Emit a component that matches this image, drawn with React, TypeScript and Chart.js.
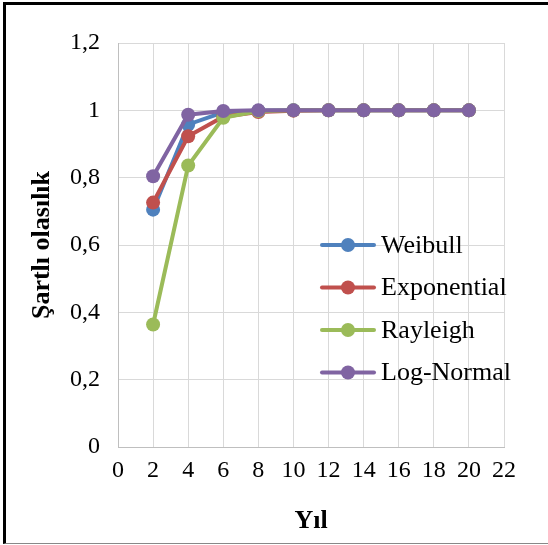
import React, { useEffect, useRef } from "react";
import { Chart, registerables } from "chart.js";

Chart.register(...registerables);

const years = [2, 4, 6, 8, 10, 12, 14, 16, 18, 20];
const weibull = [0.705, 0.958, 0.994, 0.999, 1, 1, 1, 1, 1, 1];
const exponential = [0.726, 0.923, 0.981, 0.995, 0.999, 1, 1, 1, 1, 1];
const rayleigh = [0.364, 0.836, 0.978, 0.998, 1, 1, 1, 1, 1, 1];
const logNormal = [0.804, 0.987, 0.998, 1, 1, 1, 1, 1, 1, 1];
const seriesNames = ["Weibull", "Exponential", "Rayleigh", "Log-Normal"];
const seriesColors = ["#4F81BD", "#C0504D", "#9BBB59", "#8064A2"];
const xTitle = "Yıl";
const yTitle = "Şartlı olasılık";

const FONT = "'Liberation Serif', 'Times New Roman', serif";

const legendPlugin = {
  id: "insideLegend",
  afterDraw(chart: any) {
    const ctx = chart.ctx;
    const ca = chart.chartArea;
    const x0 = ca.left + 204;
    const y0 = ca.top + 202;
    const gap = 42.5;
    ctx.save();
    chart.data.datasets.forEach((ds: any, i: number) => {
      const y = y0 + i * gap;
      ctx.strokeStyle = ds.borderColor;
      ctx.lineWidth = 4;
      ctx.lineCap = "round";
      ctx.beginPath();
      ctx.moveTo(x0, y);
      ctx.lineTo(x0 + 52, y);
      ctx.stroke();
      ctx.fillStyle = ds.backgroundColor;
      ctx.beginPath();
      ctx.arc(x0 + 26, y, 7, 0, Math.PI * 2);
      ctx.fill();
      ctx.fillStyle = "#000";
      ctx.font = `26px ${FONT}`;
      ctx.textBaseline = "middle";
      ctx.textAlign = "left";
      ctx.fillText(ds.label, x0 + 59, y + 1);
    });
    ctx.restore();
  },
};

const fmt = (v: any) => {
  const n = Number(Number(v).toFixed(1));
  return String(n).replace(".", ",");
};

export default function App() {
  const ref = useRef<HTMLCanvasElement>(null);
  useEffect(() => {
    document.body.style.margin = "0";
    let chart: any = null;
    let cancelled = false;
    const build = () => {
      if (cancelled || !ref.current) return;
      const all = [weibull, exponential, rayleigh, logNormal];
      chart = new Chart(ref.current, {
        type: "line",
        data: {
          datasets: all.map((arr, i) => ({
            label: seriesNames[i],
            data: years.map((x, j) => ({ x, y: arr[j] })),
            borderColor: seriesColors[i],
            backgroundColor: seriesColors[i],
            pointBackgroundColor: seriesColors[i],
            pointBorderColor: seriesColors[i],
            pointRadius: 7,
            pointBorderWidth: 0,
            borderWidth: 4,
            tension: 0,
            order: 4 - i,
          })),
        },
        options: {
          animation: false,
          responsive: false,
          layout: { padding: { left: 23, right: 44, top: 43, bottom: 0 } },
          plugins: {
            legend: { display: false },
            tooltip: { enabled: false },
          },
          scales: {
            x: {
              type: "linear",
              min: 0,
              max: 22,
              ticks: {
                stepSize: 2,
                color: "#000",
                font: { family: FONT, size: 24 },
                padding: 9,
                maxRotation: 0,
                autoSkip: false,
              },
              grid: { color: "#D9D9D9", lineWidth: 1, drawTicks: false },
              border: { color: "#BFBFBF", width: 1 },
              title: {
                display: true,
                text: xTitle,
                color: "#000",
                font: { family: FONT, size: 26, weight: "bold" },
                padding: { top: 4, bottom: 8 },
              },
              afterFit: (s: any) => {
                s.height = 98;
              },
            },
            y: {
              min: 0,
              max: 1.2,
              ticks: {
                stepSize: 0.2,
                color: "#000",
                font: { family: FONT, size: 24 },
                padding: 18,
                callback: (v: any) => fmt(v),
              },
              grid: { color: "#D9D9D9", lineWidth: 1, drawTicks: false },
              border: { color: "#BFBFBF", width: 1 },
              title: {
                display: true,
                text: yTitle,
                color: "#000",
                font: { family: FONT, size: 26, weight: "bold" },
                padding: { bottom: 4 },
              },
              afterFit: (s: any) => {
                s.width = 95;
              },
            },
          },
        },
        plugins: [legendPlugin],
      });
    };
    const fonts: any = (document as any).fonts;
    if (fonts && fonts.load) {
      Promise.all([
        fonts.load(`24px 'Liberation Serif'`, "0,8 Weibull Şartlı"),
        fonts.load(`bold 26px 'Liberation Serif'`, "Şartlı olasılık Yıl"),
      ])
        .catch(() => {})
        .then(build);
    } else {
      build();
    }
    return () => {
      cancelled = true;
      if (chart) chart.destroy();
    };
  }, []);
  return (
    <div style={{ position: "relative", width: 548, height: 545, overflow: "hidden", background: "#fff" }}>
      <canvas ref={ref} width={548} height={545} style={{ position: "absolute", left: 0, top: 0 }} />
      <div
        style={{
          position: "absolute",
          left: 3,
          top: 2,
          width: 560,
          height: 538,
          borderLeft: "3px solid #000",
          borderTop: "3px solid #000",
          borderBottom: "1px solid #888",
          pointerEvents: "none",
        }}
      />
    </div>
  );
}
